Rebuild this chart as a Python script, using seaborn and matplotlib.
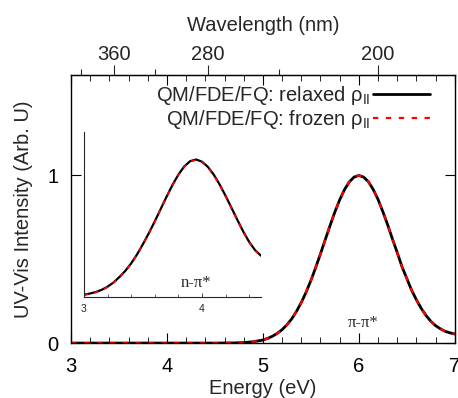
import numpy as np
import matplotlib
matplotlib.use("Agg")
import matplotlib.pyplot as plt
from matplotlib.ticker import MultipleLocator
import seaborn as sns

# ---------------------------
# Data
# ---------------------------
energy_main = [3.0, 3.5, 4.0, 4.5, 4.6, 4.7, 4.8, 4.9,
               5.0, 5.05, 5.1, 5.15, 5.2, 5.25, 5.3, 5.35, 5.4, 5.45,
               5.5, 5.55, 5.6, 5.65, 5.7, 5.75, 5.8, 5.85, 5.9, 5.95,
               6.0, 6.05, 6.1, 6.15, 6.2, 6.25, 6.3, 6.35, 6.4, 6.45,
               6.5, 6.55, 6.6, 6.65, 6.7, 6.75, 6.8, 6.85, 6.9, 6.95, 7.0]
relaxed_main = [0, 0, 0, 0, 0.0004, 0.001, 0.003, 0.008,
                0.018, 0.028, 0.041, 0.058, 0.080, 0.109, 0.144, 0.189, 0.242, 0.303,
                0.373, 0.450, 0.532, 0.617, 0.701, 0.782, 0.854, 0.915, 0.961, 0.990,
                1.000, 0.990, 0.962, 0.916, 0.857, 0.784, 0.706, 0.621, 0.540, 0.455,
                0.385, 0.315, 0.258, 0.207, 0.165, 0.130, 0.104, 0.085, 0.070, 0.061, 0.054]
# frozen curve lies on top of the relaxed one
frozen_main = [0, 0, 0, 0, 0.0004, 0.001, 0.003, 0.008,
               0.018, 0.028, 0.041, 0.058, 0.080, 0.109, 0.144, 0.189, 0.242, 0.303,
               0.373, 0.450, 0.532, 0.617, 0.701, 0.782, 0.854, 0.915, 0.961, 0.990,
               1.000, 0.990, 0.962, 0.916, 0.857, 0.784, 0.706, 0.621, 0.540, 0.455,
               0.385, 0.315, 0.258, 0.207, 0.165, 0.130, 0.104, 0.085, 0.070, 0.061, 0.054]

# inset: n-pi* band (normalised)
energy_inset = [3.0, 3.05, 3.1, 3.15, 3.2, 3.25, 3.3, 3.35, 3.4, 3.45,
                3.5, 3.55, 3.6, 3.65, 3.7, 3.75, 3.8, 3.85, 3.9, 3.95,
                4.0, 4.05, 4.1, 4.15, 4.2, 4.25, 4.3, 4.35, 4.4, 4.45, 4.5]
relaxed_inset = [0.017, 0.025, 0.036, 0.052, 0.075, 0.105, 0.145, 0.190, 0.245, 0.310,
                 0.385, 0.465, 0.550, 0.640, 0.730, 0.815, 0.890, 0.950, 0.988, 1.000,
                 0.984, 0.946, 0.889, 0.817, 0.735, 0.648, 0.560, 0.475, 0.400, 0.340, 0.300]
frozen_inset = [0.015, 0.023, 0.034, 0.050, 0.073, 0.103, 0.143, 0.188, 0.243, 0.308,
                0.383, 0.463, 0.548, 0.638, 0.728, 0.812, 0.887, 0.947, 0.985, 0.997,
                0.981, 0.943, 0.886, 0.814, 0.732, 0.645, 0.557, 0.472, 0.397, 0.337, 0.297]

wl_major = [360, 280, 200]
wl_minor = [400, 320, 240]

labels = ["QM/FDE/FQ: relaxed ρ$_{\\mathregular{II}}$",
          "QM/FDE/FQ: frozen ρ$_{\\mathregular{II}}$"]

# ---------------------------
# Style
# ---------------------------
sns.set_style("ticks")
plt.rcParams['font.family'] = ['Liberation Sans', 'DejaVu Sans']
plt.rcParams['mathtext.fontset'] = 'custom'
plt.rcParams['mathtext.rm'] = 'Liberation Sans'
plt.rcParams['font.size'] = 14.5

dash = (0, (2.4, 3.4))

fig = plt.figure(figsize=(4.58, 3.98), dpi=100)
ax = fig.add_axes([0.155, 0.138, 0.838, 0.674])

sns.lineplot(x=energy_main, y=relaxed_main, ax=ax, color="black", lw=2.0, legend=False)
sns.lineplot(x=energy_main, y=frozen_main, ax=ax, color="red", lw=1.6,
             linestyle=dash, legend=False)

ax.set_xlim(3, 7)
ax.set_ylim(0, 1.6)
ax.set_xticks([3, 4, 5, 6, 7])
ax.xaxis.set_minor_locator(MultipleLocator(0.2))
ax.set_yticks([0, 1])
ax.tick_params(which="both", direction="in", top=True, right=True, colors="black")
ax.tick_params(which="major", length=7, width=0.8)
ax.tick_params(axis="x", which="major", pad=10)
ax.tick_params(axis="y", which="major", pad=9)
ax.tick_params(which="minor", length=4, width=0.6)
for sp in ax.spines.values():
    sp.set_linewidth(1.0)
    sp.set_color("black")
ax.set_xlabel("Energy (eV)", labelpad=2)
ax.set_ylabel("UV-Vis Intensity (Arb. U)", labelpad=10)

# top axis in wavelength
def e2nm(e):
    e = np.asarray(e, dtype=float)
    with np.errstate(divide="ignore"):
        return 1239.84 / e

sec = ax.secondary_xaxis("top", functions=(e2nm, e2nm))
sec.set_xticks(wl_major)
sec.set_xticks(wl_minor, minor=True)
sec.tick_params(axis="x", which="both", direction="out")
sec.tick_params(axis="x", which="major", length=7, width=0.8, pad=1)
sec.tick_params(axis="x", which="minor", length=4, width=0.8)
sec.set_xlabel("Wavelength (nm)", labelpad=10)

# legend with line samples on the right
lines = ax.get_lines()
ax.legend(lines[:2], labels, loc="upper right", bbox_to_anchor=(0.935, 0.965),
          markerfirst=False, frameon=False, handlelength=2.8, handletextpad=0.15,
          labelspacing=0.05, borderpad=0, borderaxespad=0, fontsize=14.5)

ax.text(6.04, 0.12, "π-π*", ha="center", va="center", fontsize=12,
        family=["Liberation Serif", "DejaVu Serif"])

# ---------------------------
# Inset
# ---------------------------
ax_in = fig.add_axes([0.1834, 0.2538, 0.3865, 0.4146])
sns.lineplot(x=energy_inset, y=relaxed_inset, ax=ax_in, color="black", lw=1.6, legend=False)
sns.lineplot(x=energy_inset, y=frozen_inset, ax=ax_in, color="red", lw=1.3,
             linestyle=(0, (2.4, 3.4)), legend=False)
ax_in.set_xlim(3, 4.5)
ax_in.set_ylim(0, 1.2)
ax_in.set_xticks([3, 4])
ax_in.xaxis.set_minor_locator(MultipleLocator(0.2))
ax_in.set_yticks([])
ax_in.tick_params(which="both", direction="in", labelsize=7.5, pad=5)
ax_in.tick_params(which="major", length=3, width=0.6)
ax_in.tick_params(which="minor", length=2, width=0.5)
ax_in.spines["top"].set_visible(False)
ax_in.spines["right"].set_visible(False)
for s in ("left", "bottom"):
    ax_in.spines[s].set_linewidth(0.8)
ax_in.patch.set_alpha(0)
ax_in.text(3.95, 0.10, "n-π*", ha="center", va="center", fontsize=12,
           family=["Liberation Serif", "DejaVu Serif"])

fig.savefig("out.png", dpi=100)
